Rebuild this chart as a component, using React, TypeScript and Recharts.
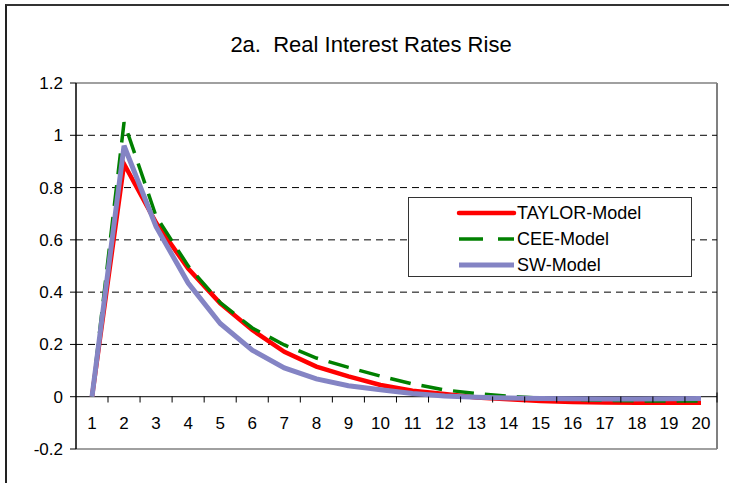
import {
  LineChart,
  Line,
  XAxis,
  YAxis,
  ReferenceLine,
  Legend,
} from 'recharts';

const periods = ['1', '2', '3', '4', '5', '6', '7', '8', '9', '10', '11', '12', '13', '14', '15', '16', '17', '18', '19', '20'];
const taylor = [0, 0.89, 0.665, 0.49, 0.357, 0.255, 0.172, 0.115, 0.078, 0.045, 0.023, 0.01, -0.003, -0.01, -0.016, -0.02, -0.022, -0.023, -0.023, -0.023];
const cee = [0, 1.05, 0.69, 0.5, 0.36, 0.263, 0.198, 0.148, 0.112, 0.079, 0.049, 0.026, 0.012, 0.002, -0.006, -0.011, -0.014, -0.016, -0.016, -0.016];
const sw = [0, 0.96, 0.65, 0.435, 0.28, 0.178, 0.11, 0.068, 0.042, 0.027, 0.012, 0.003, -0.002, -0.005, -0.007, -0.008, -0.009, -0.009, -0.008, -0.007];
const yTicks = [-0.2, 0, 0.2, 0.4, 0.6, 0.8, 1, 1.2];
const gridValues = [0.2, 0.4, 0.6, 0.8, 1];

const FONT = '"Liberation Sans", Arial, sans-serif';

const SERIES = [
  { key: 'taylor', name: 'TAYLOR-Model', color: '#FF0000', width: 4.5, dash: undefined as string | undefined },
  { key: 'cee', name: 'CEE-Model', color: '#008000', width: 3.5, dash: '21 11' },
  { key: 'sw', name: 'SW-Model', color: '#8484C4', width: 5, dash: undefined as string | undefined },
];

const data = periods.map((p, i) => ({
  period: p,
  taylor: taylor[i],
  cee: cee[i],
  sw: sw[i],
}));

// x labels sit just under the zero line, tick marks between categories
function PeriodTick(props: any) {
  const { x, y, payload, index } = props;
  const zeroY = y - 52.5;
  const last = index === periods.length - 1;
  return (
    <g>
      <line
        x1={x + 16}
        x2={x + 16}
        y1={last ? zeroY - 4 : zeroY}
        y2={zeroY + 6}
        stroke="#000"
        strokeWidth={1}
      />
      <text x={x} y={y - 20} textAnchor="middle" fontSize={17} fontFamily={FONT} fill="#000">
        {payload.value}
      </text>
    </g>
  );
}

function LegendBox() {
  return (
    <div
      style={{
        width: 284,
        height: 80,
        border: '1px solid #333',
        background: '#fff',
        fontFamily: FONT,
        fontSize: 18,
        boxSizing: 'border-box',
        paddingTop: 2,
      }}
    >
      {SERIES.map((s) => (
        <div key={s.key} style={{ display: 'flex', alignItems: 'center', height: 26 }}>
          <svg width={108} height={12}>
            <line
              x1={50}
              x2={105}
              y1={6}
              y2={6}
              stroke={s.color}
              strokeWidth={s.width}
              strokeDasharray={s.dash ? '24 15' : undefined}
              strokeLinecap={s.key === 'taylor' ? 'round' : 'butt'}
            />
          </svg>
          <span style={{ color: '#000' }}>{s.name}</span>
        </div>
      ))}
    </div>
  );
}

export default function App() {
  return (
    <div
      style={{
        position: 'absolute',
        left: 0,
        top: 0,
        width: 729,
        height: 483,
        background: '#fff',
        overflow: 'hidden',
      }}
    >
      <div
        style={{
          position: 'absolute',
          left: 5,
          top: 4,
          width: 740,
          height: 500,
          borderLeft: '2px solid #222',
          borderTop: '2px solid #333',
        }}
      />
      <div
        style={{
          position: 'absolute',
          left: 0,
          top: 33,
          width: 742,
          textAlign: 'center',
          fontFamily: FONT,
          fontSize: 22,
          lineHeight: '24px',
          whiteSpace: 'pre',
        }}
      >
        {'2a.  Real Interest Rates Rise'}
      </div>
      {/* right edge of the plot frame */}
      <div
        style={{
          position: 'absolute',
          left: 716,
          top: 83,
          width: 1.5,
          height: 366,
          background: '#808080',
        }}
      />
      <div style={{ position: 'absolute', left: 0, top: 0 }}>
        <LineChart width={729} height={483} data={data} margin={{ top: 83, right: 12, left: 0, bottom: 4 }}>
          <XAxis
            dataKey="period"
            height={30}
            padding={{ left: 16, right: 16 }}
            axisLine={{ stroke: '#808080', strokeWidth: 1.5 }}
            tickLine={false}
            tickSize={0}
            tickMargin={0}
            tick={<PeriodTick />}
            interval={0}
          />
          <YAxis
            domain={[-0.2, 1.2]}
            ticks={yTicks}
            width={76}
            axisLine={{ stroke: '#000', strokeWidth: 1.5 }}
            tickLine={{ stroke: '#000' }}
            tickSize={6}
            tickMargin={7}
            tick={{ fontSize: 17, fontFamily: FONT, fill: '#000' }}
            tickFormatter={(v) => String(Math.round(v * 10) / 10)}
            interval={0}
          />
          {gridValues.map((v) => (
            <ReferenceLine key={v} y={v} stroke="#000" strokeDasharray="7 5" />
          ))}
          <ReferenceLine y={1.2} stroke="#808080" strokeWidth={1.5} />
          <ReferenceLine y={0} stroke="#000" strokeWidth={1} />
          {SERIES.map((s) => (
            <Line
              key={s.key}
              type="linear"
              dataKey={s.key}
              name={s.name}
              stroke={s.color}
              strokeWidth={s.width}
              strokeDasharray={s.dash}
              dot={false}
              activeDot={false}
              isAnimationActive={false}
            />
          ))}
          <Legend
            layout="horizontal"
            verticalAlign="middle"
            align="center"
            content={<LegendBox />}
            wrapperStyle={{ position: 'absolute', left: 408, top: 197, width: 286, height: 82 }}
          />
        </LineChart>
      </div>
    </div>
  );
}
